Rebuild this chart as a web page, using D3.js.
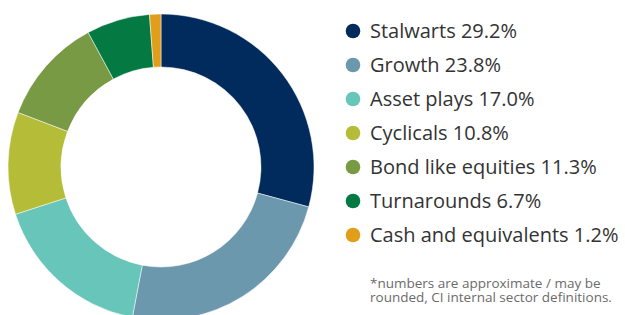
<!DOCTYPE html>
<html>
<head>
<meta charset="utf-8">
<script src="https://cdn.jsdelivr.net/npm/d3@7"></script>
<style>
  body { margin: 0; background: #fff; }
  svg { display: block; font-family: "Open Sans", sans-serif; }
</style>
</head>
<body>
<div id="chart"></div>
<script>
// sector mix, clockwise from 12 o'clock
const categories = ['Stalwarts', 'Growth', 'Asset plays', 'Cyclicals', 'Bond like equities', 'Turnarounds', 'Cash and equivalents'];
const values = [29.2, 23.8, 17.0, 10.8, 11.3, 6.7, 1.2];
const colors = ['#002b5c', '#6b98ac', '#67c5b9', '#b5bc37', '#799a44', '#047a42', '#e09e1b'];
const footnote = ['*numbers are approximate / may be', 'rounded, CI internal sector definitions.'];

const width = 625, height = 315;

const svg = d3.select('#chart').append('svg')
  .attr('width', width)
  .attr('height', height);

// donut
const cx = 161, cy = 167;
const outerR = 153, innerR = 100;

const pie = d3.pie().sort(null).value(d => d);
const arc = d3.arc().innerRadius(innerR).outerRadius(outerR);

const g = svg.append('g').attr('transform', 'translate(' + cx + ',' + cy + ')');

g.selectAll('path')
  .data(pie(values))
  .enter().append('path')
  .attr('d', arc)
  .attr('fill', (d, i) => colors[i])
  .attr('stroke', '#fff')
  .attr('stroke-width', 0.5);

// legend
const legend = svg.append('g').attr('transform', 'translate(353,31)');
const row = 34;

const item = legend.selectAll('g.item')
  .data(categories)
  .enter().append('g')
  .attr('class', 'item')
  .attr('transform', (d, i) => 'translate(0,' + (i * row) + ')');

item.append('circle')
  .attr('r', 7.3)
  .attr('fill', (d, i) => colors[i]);

item.append('text')
  .attr('x', 17)
  .attr('dy', '0.35em')
  .attr('font-size', 20)
  .attr('fill', '#333')
  .text((d, i) => d + ' ' + values[i].toFixed(1) + '%');

// footnote
svg.append('text')
  .attr('x', 370)
  .attr('y', 288)
  .attr('font-size', 13.5)
  .attr('fill', '#6b6b6b')
  .selectAll('tspan')
  .data(footnote)
  .enter().append('tspan')
  .attr('x', 370)
  .attr('dy', (d, i) => i ? 14 : 0)
  .text(d => d);
</script>
</body>
</html>
